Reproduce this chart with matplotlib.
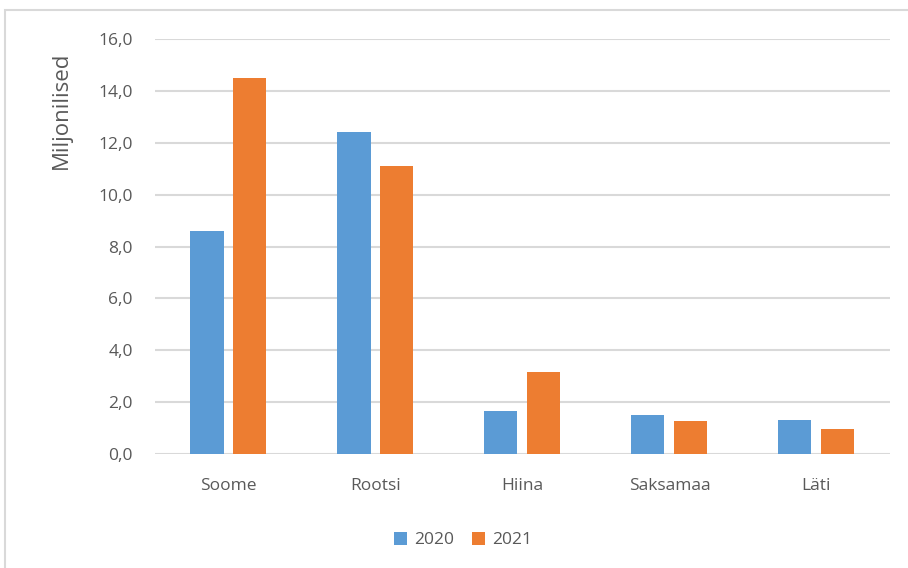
import matplotlib.pyplot as plt
import numpy as np
from matplotlib.patches import Rectangle

# eksport riikide kaupa, miljonilised
riigid = ['Soome', 'Rootsi', 'Hiina', 'Saksamaa', 'Läti']
aasta_2020 = [8.6, 12.4, 1.66, 1.49, 1.30]
aasta_2021 = [14.5, 11.1, 3.17, 1.26, 0.95]
ticks = [0, 2, 4, 6, 8, 10, 12, 14, 16]

plt.rcParams['font.family'] = ['Open Sans', 'DejaVu Sans']

fig = plt.figure(figsize=(9.08, 5.68), dpi=100)
ax = fig.add_axes([0.1707, 0.2007, 0.8093, 0.7306])

# chart border
fig.patches.append(Rectangle((0.006, -0.02), 1.1, 1.003, transform=fig.transFigure,
                             fill=False, edgecolor='#d9d9d9', lw=1.5))

x = np.arange(len(riigid))
w = 0.225
ax.bar(x - 0.146, aasta_2020, w, color='#5b9bd5', label='2020', zorder=3)
ax.bar(x + 0.146, aasta_2021, w, color='#ed7d31', label='2021', zorder=3)

ax.set_xlim(-0.5, len(riigid) - 0.5)
ax.set_ylim(0, 16)
ax.set_yticks(ticks)
ax.set_yticklabels([f'{t:.1f}'.replace('.', ',') for t in ticks])
ax.set_xticks(x)
ax.set_xticklabels(riigid)
ax.tick_params(length=0, labelsize=12.5, colors='#595959')
ax.tick_params(axis='x', pad=17)
ax.tick_params(axis='y', pad=16)
ax.grid(axis='y', color='#d9d9d9', lw=1.5, zorder=0)
for s in ax.spines.values():
    s.set_visible(False)

fig.text(0.068, 0.806, 'Miljonilised', rotation=90, ha='center', va='center',
         fontsize=16, color='#595959')

fig.legend(loc='center', bbox_to_anchor=(0.51, 0.049), ncol=2, frameon=False,
           fontsize=12.5, handlelength=0.75, handleheight=0.75, columnspacing=1.0,
           handletextpad=0.4, labelcolor='#595959')

fig.savefig('out.png', dpi=100)
